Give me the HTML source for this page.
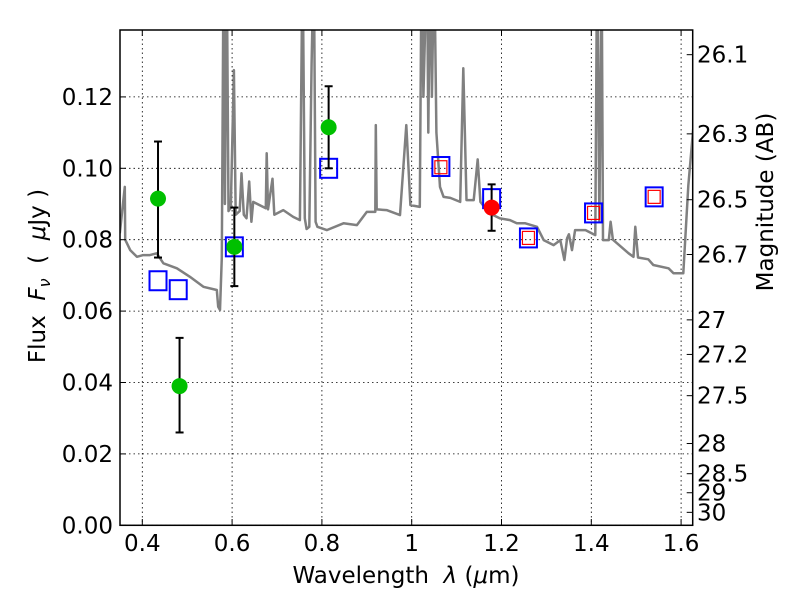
<!DOCTYPE html>
<html><head><meta charset="utf-8"><style>
html,body{margin:0;padding:0;background:#fff}
svg text{font-family:"DejaVu Sans","Liberation Sans",sans-serif;fill:#000;white-space:pre}
</style></head><body>
<svg id="chart" width="800" height="600" viewBox="0 0 800 600" xmlns="http://www.w3.org/2000/svg">
<defs><clipPath id="clip"><rect x="120" y="30" width="572.7" height="495.3"/></clipPath></defs>
<rect x="0" y="0" width="800" height="600" fill="#fff"/>
<g id="grid"></g>
<g id="spec" clip-path="url(#clip)"></g>
<g id="marks" clip-path="url(#clip)"></g>
<rect x="120" y="30" width="572.7" height="495.3" fill="none" stroke="#000" stroke-width="1.5"/>
<g id="axes"></g>
<text x="406" y="583" font-size="23" text-anchor="middle" xml:space="preserve">Wavelength  <tspan font-style="italic">λ</tspan> (<tspan font-style="italic">μ</tspan>m)</text>
<text transform="translate(45,276) rotate(-90)" font-size="23" text-anchor="middle" xml:space="preserve">Flux  <tspan font-style="italic">F<tspan font-size="16" dy="5">ν</tspan></tspan><tspan dy="-5">  (  </tspan><tspan font-style="italic">μ</tspan>Jy )</text>
<text transform="translate(773,202) rotate(-90)" font-size="23" text-anchor="middle">Magnitude (AB)</text>
</svg>
<script>
const specWave=[0.350,0.361,0.362,0.373,0.388,0.402,0.417,0.432,0.447,0.477,0.506,0.536,0.566,0.569,0.573,0.577,0.581,0.584,0.588,0.592,0.597,0.604,0.608,0.617,0.621,0.626,0.632,0.638,0.643,0.647,0.675,0.677,0.680,0.690,0.694,0.714,0.736,0.751,0.757,0.762,0.766,0.772,0.777,0.782,0.786,0.790,0.811,0.848,0.878,0.900,0.919,0.920,0.922,0.944,0.974,0.988,0.997,1.018,1.022,1.026,1.034,1.037,1.041,1.045,1.05,1.055,1.063,1.071,1.086,1.108,1.115,1.122,1.138,1.147,1.153,1.173,1.196,1.219,1.234,1.253,1.279,1.294,1.316,1.331,1.340,1.346,1.350,1.357,1.364,1.387,1.409,1.413,1.418,1.423,1.426,1.439,1.443,1.448,1.483,1.494,1.498,1.504,1.527,1.538,1.572,1.583,1.605,1.616,1.627];
const specFlux=[0.0818,0.0948,0.080,0.0771,0.0752,0.0757,0.0757,0.0762,0.0734,0.0720,0.0696,0.0668,0.0659,0.0612,0.0603,0.075,0.16,0.09,0.16,0.088,0.089,0.1275,0.087,0.088,0.0986,0.087,0.086,0.0963,0.085,0.0906,0.0888,0.1042,0.0885,0.0971,0.087,0.0883,0.0864,0.0855,0.16,0.086,0.083,0.0836,0.1294,0.16,0.085,0.0836,0.0827,0.0846,0.0841,0.0878,0.0878,0.1121,0.0885,0.0883,0.0869,0.1121,0.0897,0.0892,0.16,0.12,0.16,0.11,0.16,0.12,0.16,0.11,0.0948,0.0920,0.0917,0.0906,0.128,0.0911,0.0911,0.1025,0.0906,0.0874,0.0860,0.0855,0.0846,0.0846,0.0836,0.0799,0.0785,0.0799,0.0743,0.0804,0.0815,0.0771,0.0827,0.0827,0.0813,0.16,0.085,0.16,0.0799,0.0799,0.0850,0.080,0.0762,0.0752,0.0836,0.0750,0.0745,0.0729,0.0720,0.0706,0.0706,0.0951,0.1110];
const greenWave=[0.435,0.483,0.605,0.815];
const greenFlux=[0.0915,0.039,0.078,0.1115];
const greenLo=[0.075,0.026,0.067,0.100];
const greenHi=[0.1075,0.0525,0.089,0.123];
const redWave=[1.178];const redFlux=[0.089];const redLo=[0.0825];const redHi=[0.0955];
const blueWave=[0.435,0.48,0.605,0.815,1.065,1.178,1.26,1.405,1.54];
const blueFlux=[0.0685,0.066,0.078,0.100,0.1005,0.0915,0.0805,0.0875,0.092];
const rsqWave=[1.065,1.26,1.405,1.54];
const rsqFlux=[0.1003,0.0805,0.0875,0.092];
const xTicks=[0.4,0.6,0.8,1.0,1.2,1.4,1.6];
const xTickLabels=["0.4","0.6","0.8","1","1.2","1.4","1.6"];
const yTicks=[0,0.02,0.04,0.06,0.08,0.10,0.12];
const yTickLabels=["0.00","0.02","0.04","0.06","0.08","0.10","0.12"];
const magTicks=[26.1,26.3,26.5,26.7,27,27.2,27.5,28,28.5,29,30];
const magLabels=["26.1","26.3","26.5","26.7","27","27.2","27.5","28","28.5","29","30"];

const NS="http://www.w3.org/2000/svg";
const X=v=>142.3+(v-0.4)*449;
const Y=f=>525.3-f*3570;
function mk(tag,attrs,parent){const e=document.createElementNS(NS,tag);for(const k in attrs)e.setAttribute(k,attrs[k]);parent.appendChild(e);return e;}
const grid=document.getElementById('grid'),axes=document.getElementById('axes'),spec=document.getElementById('spec'),marks=document.getElementById('marks');
xTicks.forEach((t,i)=>{const x=X(t);
 let g=mk('line',{x1:x,x2:x,y1:30,y2:525.3,stroke:'#000','stroke-width':0.8,'stroke-dasharray':'1.5,3'},grid);
 
 mk('line',{x1:x,x2:x,y1:525.3,y2:519,stroke:'#000','stroke-width':1},axes);
 mk('line',{x1:x,x2:x,y1:30,y2:36,stroke:'#000','stroke-width':1},axes);
 let tx=mk('text',{x:x,y:551,'font-size':23,'text-anchor':'middle'},axes);tx.textContent=xTickLabels[i];
 });
yTicks.forEach((t,i)=>{const y=Y(t);
 let g=mk('line',{x1:120,x2:692.7,y1:y,y2:y,stroke:'#000','stroke-width':0.8,'stroke-dasharray':'1.5,3'},grid);
 
 mk('line',{x1:120,x2:126,y1:y,y2:y,stroke:'#000','stroke-width':1},axes);
 let tx=mk('text',{x:113,y:y+8,'font-size':23,'text-anchor':'end'},axes);tx.textContent=yTickLabels[i];
 });
magTicks.forEach((m,i)=>{const y=Y(Math.pow(10,(23.9-m)/2.5));
 mk('line',{x1:692.7,x2:686.7,y1:y,y2:y,stroke:'#000','stroke-width':1},axes);
 let tx=mk('text',{x:697,y:y+8,'font-size':23},axes);tx.textContent=magLabels[i];
 });
let d=specWave.map((w,i)=>(i?'L':'M')+X(w).toFixed(1)+','+Y(specFlux[i]).toFixed(1)).join('');
let sp=mk('path',{d:d,fill:'none',stroke:'#808080','stroke-width':2.5,'stroke-linejoin':'round'},spec);

function err(w,lo,hi){const x=X(w);
 mk('line',{x1:x,x2:x,y1:Y(lo),y2:Y(hi),stroke:'#000','stroke-width':2},marks);
 mk('line',{x1:x-4,x2:x+4,y1:Y(lo),y2:Y(lo),stroke:'#000','stroke-width':2},marks);
 mk('line',{x1:x-4,x2:x+4,y1:Y(hi),y2:Y(hi),stroke:'#000','stroke-width':2},marks);}
blueWave.forEach((w,i)=>{let r=mk('rect',{x:X(w)-8.5,y:Y(blueFlux[i])-9.5,width:17,height:19,fill:'none',stroke:'#0000ff','stroke-width':2},marks);
 });
rsqWave.forEach((w,i)=>{let r=mk('rect',{x:X(w)-6,y:Y(rsqFlux[i])-6.5,width:12,height:13,fill:'none',stroke:'#ff0000','stroke-width':1.2},marks);
 });
greenWave.forEach((w,i)=>{err(w,greenLo[i],greenHi[i]);
 let c=mk('circle',{cx:X(w),cy:Y(greenFlux[i]),r:8,fill:'#00c000'},marks);
 });
redWave.forEach((w,i)=>{err(w,redLo[i],redHi[i]);
 let c=mk('circle',{cx:X(w),cy:Y(redFlux[i]),r:8,fill:'#ff0000'},marks);
 });
</script>
</body></html>
